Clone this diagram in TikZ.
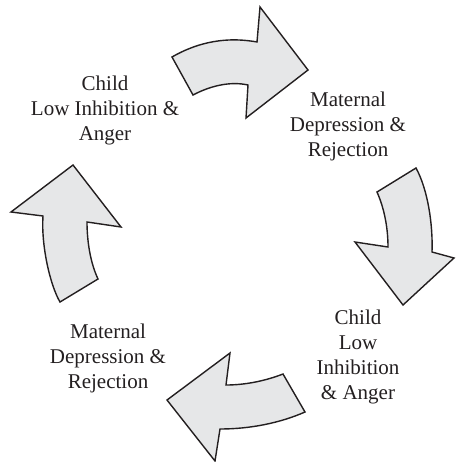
\documentclass[tikz,border=0pt]{standalone}
\usepackage{fontspec}
\setmainfont{Liberation Serif}
\definecolor{arrowfill}{HTML}{E6E7E8}
\definecolor{ink}{HTML}{231F20}
\begin{document}
\begin{tikzpicture}[x=1pt,y=-1pt,
  blockarrow/.style={draw=ink,fill=arrowfill,line width=1.4pt,line join=miter},
  label/.style={align=center,text=ink,font=\fontsize{21}{25}\selectfont,inner sep=0pt}]
\useasboundingbox (0,0) rectangle (455,462);
% top arrow
\draw[blockarrow] (172,57) .. controls (205,38) and (235,38) .. (257,42)
  -- (260,7) -- (308,70) -- (246,118) -- (248,85)
  .. controls (230,81) and (210,86) .. (193,95) -- cycle;
% right arrow
\draw[blockarrow] (416,168) -- (377,192) .. controls (385,210) and (388,230) .. (388,247)
  -- (355,242) -- (403,305) -- (454,258) -- (432,252)
  .. controls (433,225) and (428,190) .. (416,168) -- cycle;
% bottom arrow
\draw[blockarrow] (283,374) .. controls (265,381) and (245,385) .. (226,385)
  -- (230,353) -- (167,400) -- (215,461) -- (220,429)
  .. controls (250,429) and (280,423) .. (305,412) -- cycle;
% left arrow
\draw[blockarrow] (60,302) .. controls (50,285) and (41,245) .. (43,216)
  -- (11,212) -- (73,165) -- (121,227) -- (87,222)
  .. controls (87,240) and (90,262) .. (98,279) -- cycle;
% labels
\node[label] (tl) at (105,110) {Child\\Low Inhibition \&\\Anger};
\node[label] (tr) at (348,126) {Maternal\\Depression \&\\Rejection};
\node[label] (br) at (358,357) {Child\\Low\\Inhibition\\\& Anger};
\node[label] (bl) at (108,358) {Maternal\\Depression \&\\Rejection};
\end{tikzpicture}
\end{document}
